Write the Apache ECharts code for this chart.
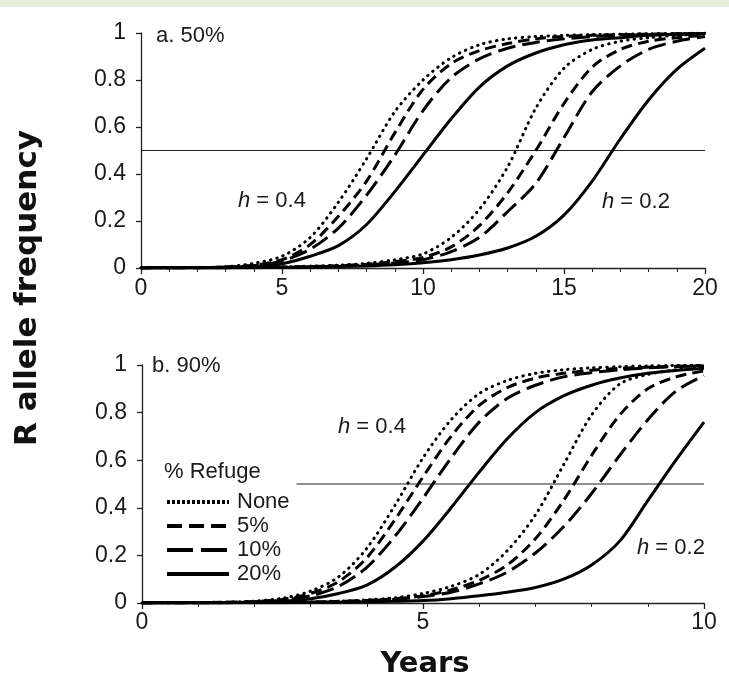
<!DOCTYPE html>
<html>
<head>
<meta charset="utf-8">
<script src="https://cdn.jsdelivr.net/npm/echarts@6/dist/echarts.min.js"></script>
<style>
html,body{margin:0;padding:0;background:#fff;}
#chart{width:729px;height:685px;}
</style>
</head>
<body>
<div id="chart"></div>
<script>
// ---- Data ----
const refugeNames = ['None', '5%', '10%', '20%'];

// Panel a (50%): yearly values 0..20
const yearsA = [0,1,2,3,4,5,6,7,8,9,10,11,12,13,14,15,16,17,18,19,20];
const aNoneH04   = [0.001,0.001,0.002,0.005,0.02,0.05,0.13,0.28,0.465,0.665,0.80,0.895,0.95,0.975,0.985,0.99,0.993,0.995,0.997,0.998,0.999];
const a5H04      = [0.001,0.001,0.002,0.004,0.012,0.035,0.10,0.22,0.37,0.575,0.76,0.87,0.925,0.955,0.975,0.985,0.99,0.993,0.995,0.997,0.998];
const a10H04     = [0.001,0.001,0.002,0.004,0.01,0.03,0.08,0.17,0.31,0.48,0.67,0.81,0.89,0.935,0.96,0.975,0.985,0.99,0.993,0.995,0.997];
const a20H04     = [0.001,0.001,0.001,0.003,0.007,0.018,0.05,0.095,0.185,0.325,0.48,0.635,0.77,0.86,0.915,0.95,0.97,0.98,0.99,0.995,0.998];
const aNoneH02   = [0.0005,0.0007,0.001,0.0015,0.003,0.005,0.008,0.012,0.02,0.035,0.06,0.13,0.25,0.43,0.68,0.85,0.93,0.965,0.98,0.99,0.995];
const a5H02      = [0.0005,0.0007,0.001,0.0015,0.0025,0.004,0.006,0.01,0.016,0.027,0.045,0.09,0.18,0.32,0.50,0.70,0.855,0.93,0.965,0.98,0.99];
const a10H02     = [0.0005,0.0007,0.001,0.0015,0.002,0.003,0.005,0.008,0.013,0.022,0.035,0.07,0.13,0.24,0.36,0.555,0.75,0.86,0.93,0.965,0.985];
const a20H02     = [0.0005,0.0006,0.001,0.001,0.0015,0.002,0.003,0.006,0.009,0.014,0.022,0.035,0.055,0.085,0.135,0.225,0.37,0.55,0.715,0.845,0.935];

// Panel b (90%): half-year values 0..10
const yearsB = [0,0.5,1,1.5,2,2.5,3,3.5,4,4.5,5,5.5,6,6.5,7,7.5,8,8.5,9,9.5,10];
const bNoneH04 = [0.0005,0.001,0.002,0.004,0.008,0.02,0.05,0.11,0.23,0.41,0.61,0.77,0.88,0.935,0.965,0.98,0.988,0.993,0.996,0.998,0.999];
const b5H04    = [0.0005,0.001,0.002,0.003,0.006,0.015,0.04,0.09,0.19,0.35,0.53,0.70,0.83,0.905,0.945,0.965,0.978,0.986,0.991,0.995,0.997];
const b10H04   = [0.0005,0.001,0.001,0.002,0.005,0.012,0.03,0.07,0.15,0.28,0.44,0.61,0.76,0.86,0.915,0.95,0.968,0.98,0.988,0.993,0.996];
const b20H04   = [0.0005,0.001,0.001,0.002,0.003,0.007,0.018,0.04,0.075,0.15,0.26,0.40,0.55,0.69,0.80,0.87,0.915,0.945,0.965,0.977,0.985];
const bNoneH02 = [0.0005,0.0007,0.001,0.0015,0.002,0.003,0.005,0.008,0.013,0.022,0.04,0.07,0.12,0.22,0.37,0.58,0.79,0.92,0.96,0.98,0.99];
const b5H02    = [0.0005,0.0007,0.001,0.0015,0.002,0.003,0.004,0.007,0.011,0.018,0.03,0.055,0.095,0.16,0.27,0.43,0.62,0.79,0.90,0.95,0.975];
const b10H02   = [0.0005,0.0007,0.001,0.0015,0.002,0.0025,0.003,0.006,0.01,0.016,0.027,0.045,0.08,0.13,0.21,0.32,0.46,0.62,0.77,0.89,0.955];
const b20H02   = [0.0005,0.0006,0.001,0.001,0.001,0.0015,0.002,0.003,0.005,0.007,0.01,0.018,0.03,0.045,0.065,0.10,0.16,0.26,0.43,0.60,0.76];

// 50% reference lines
const refLineA = [[0,0.5],[20,0.5]];
const refLineB = [[2.75,0.5],[10,0.5]];

const xTicksA = [0,5,10,15,20];
const xTicksB = [0,5,10];
const yTicks = [0,0.2,0.4,0.6,0.8,1];

// ---- Styles ----
const TXT = '#1a1a1a';
const FONT = 'Liberation Sans, Arial, sans-serif';
const lineStyles = {
  'None': {color:'#000', width:3, type:[0.5,6], cap:'round'},
  '5%':   {color:'#000', width:3, type:[11,6], cap:'butt'},
  '10%':  {color:'#000', width:3, type:[18,7], cap:'butt'},
  '20%':  {color:'#000', width:3, type:'solid'}
};

function zip(xs, ys){ return xs.map((x,i)=>[x, ys[i]]); }

function curve(name, idx, xs, ys){
  return {
    type:'line', name:name, xAxisIndex:idx, yAxisIndex:idx,
    data: zip(xs, ys), symbol:'none', smooth:0.3, color:'#000',
    itemStyle:{color:'#000'},
    lineStyle: lineStyles[name], silent:true, z:3
  };
}
function refLine(idx, pts){
  return {type:'line', name:'ref', xAxisIndex:idx, yAxisIndex:idx, data:pts,
    symbol:'none', color:'#222', lineStyle:{color:'#222', width:1}, silent:true, z:2};
}

function xAxis(idx, max, ticks, margin){
  return {
    type:'value', gridIndex:idx, min:0, max:max, interval:5,
    axisLine:{show:true, onZero:false, lineStyle:{color:'#222', width:1.3}},
    axisTick:{show:true, length:6, lineStyle:{color:'#222', width:1.3}},
    minorTick:{show:true, splitNumber:5, length:4, lineStyle:{color:'#222', width:1}},
    splitLine:{show:false},
    axisLabel:{color:TXT, fontSize:23, fontFamily:FONT, margin:margin,
      formatter: v => ticks.indexOf(v) >= 0 ? String(v) : ''}
  };
}
function yAxis(idx){
  return {
    type:'value', gridIndex:idx, min:0, max:1, interval:0.2,
    axisLine:{show:true, lineStyle:{color:'#222', width:1.3}},
    axisTick:{show:true, length:5, lineStyle:{color:'#222', width:1.3}},
    splitLine:{show:false},
    axisLabel:{color:TXT, fontSize:23, fontFamily:FONT, margin:15,
      formatter: v => { const t = yTicks.find(k => Math.abs(k - v) < 1e-9); return t === undefined ? '' : String(t); }}
  };
}

function label(text, x, y){
  return {type:'text', x:x, y:y, silent:true, z:10,
    style:{text:text, fill:TXT, font:'22px ' + FONT, textVerticalAlign:'middle', textAlign:'left'}};
}
function hLabel(val, x, y){
  return {type:'text', x:x, y:y, silent:true, z:10,
    style:{text:'{i|h} = ' + val, fill:TXT, font:'22px ' + FONT, textVerticalAlign:'middle', textAlign:'left',
      rich:{i:{fontStyle:'italic', fontSize:22, fontFamily:FONT, fill:TXT}}}};
}

const series = [
  curve('None',0,yearsA,aNoneH04), curve('5%',0,yearsA,a5H04), curve('10%',0,yearsA,a10H04), curve('20%',0,yearsA,a20H04),
  curve('None',0,yearsA,aNoneH02), curve('5%',0,yearsA,a5H02), curve('10%',0,yearsA,a10H02), curve('20%',0,yearsA,a20H02),
  curve('None',1,yearsB,bNoneH04), curve('5%',1,yearsB,b5H04), curve('10%',1,yearsB,b10H04), curve('20%',1,yearsB,b20H04),
  curve('None',1,yearsB,bNoneH02), curve('5%',1,yearsB,b5H02), curve('10%',1,yearsB,b10H02), curve('20%',1,yearsB,b20H02),
  refLine(0, refLineA), refLine(1, refLineB)
];

const option = {
  animation:false,
  backgroundColor:'#ffffff',
  grid:[
    {left:141, top:33, width:564, height:235},
    {left:142, top:365, width:562, height:238}
  ],
  xAxis:[xAxis(0,20,xTicksA,9), xAxis(1,10,xTicksB,8)],
  yAxis:[yAxis(0), yAxis(1)],
  legend:{
    orient:'vertical', left:165, top:491, padding:0,
    itemWidth:62, itemHeight:18, itemGap:2,
    itemStyle:{color:'rgba(0,0,0,0)', borderWidth:0, opacity:0},
    textStyle:{color:TXT, fontSize:22, fontFamily:FONT, padding:[0,0,0,3]},
    selectedMode:false,
    data:[
      {name:'None', lineStyle:{type:[3,2], cap:'butt', width:4, color:'#000'}},
      {name:'5%', lineStyle:{type:[15,7], cap:'butt', width:4, color:'#000'}},
      {name:'10%', lineStyle:{type:[26,8], cap:'butt', width:4, color:'#000'}},
      {name:'20%', lineStyle:{width:4, color:'#000'}}
    ]
  },
  graphic:[
    {type:'rect', shape:{x:0, y:0, width:729, height:7}, style:{fill:'#e4efdb'}, silent:true},
    label('a. 50%', 156, 36),
    label('b. 90%', 152, 366),
    hLabel('0.4', 238, 201),
    hLabel('0.2', 602, 202),
    hLabel('0.4', 338, 427),
    hLabel('0.2', 637, 548),
    label('% Refuge', 164, 472),
    {type:'text', x:28, y:288, rotation:Math.PI/2, silent:true,
      style:{text:'R allele frequency', fill:'#111', font:'bold 31px DejaVu Sans, sans-serif', textAlign:'center', textVerticalAlign:'middle'}},
    {type:'text', x:425, y:664, silent:true,
      style:{text:'Years', fill:'#111', font:'bold 29px DejaVu Sans, sans-serif', textAlign:'center', textVerticalAlign:'middle'}}
  ],
  series: series
};

const chart = echarts.init(document.getElementById('chart'), null, {renderer:'canvas'});
chart.setOption(option);
</script>
</body>
</html>
